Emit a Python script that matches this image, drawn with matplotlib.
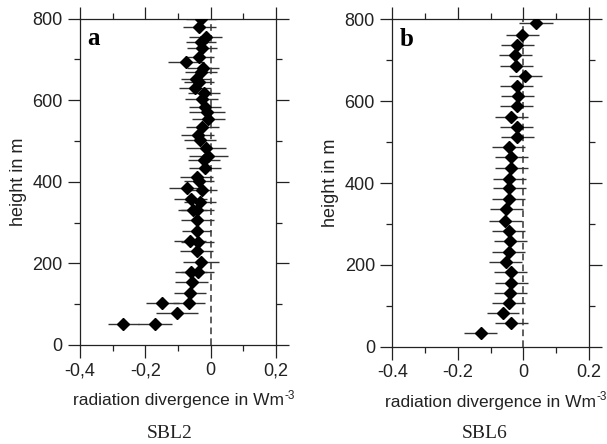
import numpy as np
import matplotlib
matplotlib.use('Agg')
import matplotlib.pyplot as plt
from matplotlib.ticker import FixedLocator

# panel a (SBL2): height in m, radiation divergence, half-width of error bar
h_a = [800, 780, 755, 743, 727, 705, 694, 678, 670, 653, 645, 629, 617, 604, 584,
       572, 555, 535, 514, 502, 482, 463, 453, 433, 412, 403, 385, 380, 359, 351,
       332, 331, 306, 280, 256, 253, 230, 204, 180, 180, 154, 128, 104, 102, 78, 51, 51]
x_a = [-0.030, -0.035, -0.015, -0.030, -0.026, -0.035, -0.076, -0.023, -0.030, -0.046,
       -0.036, -0.048, -0.020, -0.028, -0.017, -0.012, -0.007, -0.026, -0.040, -0.033,
       -0.014, -0.007, -0.020, -0.017, -0.043, -0.036, -0.073, -0.026, -0.061, -0.033,
       -0.041, -0.055, -0.041, -0.043, -0.063, -0.040, -0.043, -0.030, -0.060, -0.040,
       -0.058, -0.063, -0.066, -0.148, -0.103, -0.267, -0.170]
err_a = [0.045, 0.05, 0.05, 0.045, 0.045, 0.045, 0.055, 0.05, 0.05, 0.045,
         0.045, 0.05, 0.05, 0.05, 0.05, 0.055, 0.05, 0.05, 0.05, 0.05,
         0.06, 0.06, 0.05, 0.05, 0.05, 0.045, 0.055, 0.045, 0.05, 0.05,
         0.05, 0.045, 0.05, 0.045, 0.05, 0.05, 0.05, 0.055, 0.05, 0.05,
         0.05, 0.05, 0.05, 0.05, 0.065, 0.048, 0.052]

# panel b (SBL6)
h_b = [790, 762, 737, 713, 687, 661, 637, 613, 587, 561, 536, 512, 489, 463, 437, 411,
       387, 361, 336, 308, 283, 258, 232, 208, 182, 156, 132, 108, 83, 57, 33]
x_b = [0.038, -0.003, -0.018, -0.024, -0.021, 0.006, -0.020, -0.017, -0.020, -0.036,
       -0.020, -0.018, -0.045, -0.037, -0.037, -0.043, -0.043, -0.044, -0.052, -0.055,
       -0.045, -0.040, -0.045, -0.054, -0.038, -0.037, -0.040, -0.045, -0.062, -0.036, -0.130]
err_b = [0.052, 0.05, 0.05, 0.05, 0.05, 0.05, 0.05, 0.05, 0.05, 0.051,
         0.05, 0.05, 0.05, 0.05, 0.05, 0.05, 0.05, 0.05, 0.05, 0.05,
         0.05, 0.05, 0.05, 0.05, 0.05, 0.05, 0.05, 0.05, 0.05, 0.05, 0.051]

xticks = [-0.4, -0.2, 0, 0.2]
xlabels_a = ['-0,4', '-0,2', '0', '0,2']
xlabels_b = ['-0.4', '-0.2', '0', '0.2']
yticks = [0, 200, 400, 600, 800]

plt.rcParams['font.family'] = ['Liberation Sans', 'DejaVu Sans']
TXT = '#222222'

fig = plt.figure(figsize=(6.07, 4.44), dpi=100)
ax_a = fig.add_axes([0.1318, 0.223, 0.3229, 0.735])
ax_b = fig.add_axes([0.6463, 0.2191, 0.3236, 0.7374])


def draw_panel(ax, h, x, err, xlabels, letter, lx, name, name_x):
    ax.axvline(0, color='#444444', lw=1.2, ls=(0, (4, 2.5)), zorder=1)
    ax.errorbar(x, h, xerr=err, fmt='none', ecolor='#333333', elinewidth=1.0, zorder=2)
    ax.plot(x, h, 'D', ms=5.9, color='black', zorder=3)
    ax.set_xlim(-0.4, 0.2)
    ax.set_ylim(0, 800)
    ax.xaxis.set_major_locator(FixedLocator(xticks))
    ax.xaxis.set_minor_locator(FixedLocator([-0.3, -0.1, 0.1]))
    ax.yaxis.set_major_locator(FixedLocator(yticks))
    ax.yaxis.set_minor_locator(FixedLocator([100, 300, 500, 700]))
    ax.set_xticklabels(xlabels)
    ax.tick_params(which='both', direction='out', top=True, right=True,
                   labeltop=False, labelright=False, width=0.9, colors=TXT,
                   labelsize=13, labelcolor=TXT)
    ax.tick_params(which='major', length=9, pad=3.5)
    ax.tick_params(which='minor', length=4.3)
    for s in ax.spines.values():
        s.set_linewidth(0.9)
        s.set_color(TXT)
    ax.set_ylabel('height in m', fontsize=13, color=TXT, labelpad=4)
    lab = ax.set_xlabel('radiation divergence in Wm', fontsize=12.5, color=TXT, labelpad=10)
    ax.annotate('-3', xy=(1, 1), xycoords=lab, xytext=(0.5, 2.5), textcoords='offset points',
                ha='left', va='top', fontsize=8.5, color=TXT)
    ax.text(lx, 0.92, letter, transform=ax.transAxes, ha='left', va='baseline',
            fontsize=18, fontweight='bold', family='Liberation Serif', color='black')
    fig.text(name_x, 0.014, name, ha='center', va='baseline', fontsize=14,
             family='Liberation Serif', color=TXT)


draw_panel(ax_a, h_a, x_a, err_a, xlabels_a, 'a', 0.036, 'SBL2', 170 / 607)
draw_panel(ax_b, h_b, x_b, err_b, xlabels_b, 'b', 0.039, 'SBL6', 484.5 / 607)

fig.savefig('out.png', dpi=100)
